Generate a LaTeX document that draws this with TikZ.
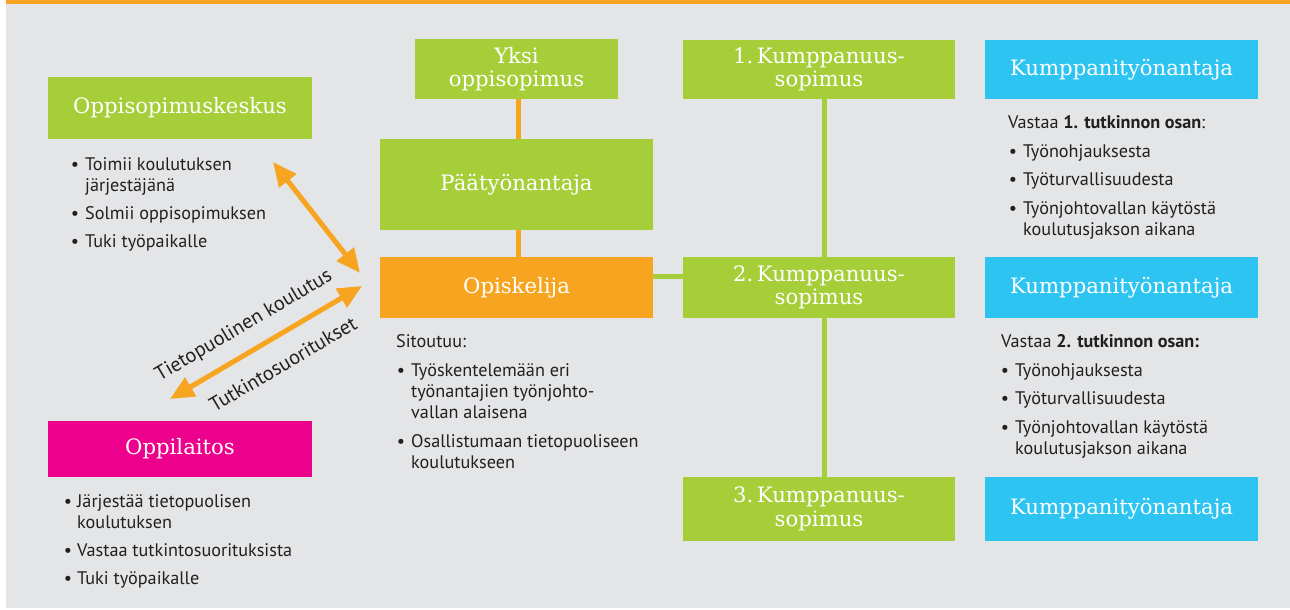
\documentclass[tikz,border=0pt]{standalone}
\usepackage{fontspec}
\setmainfont{PT Sans}
\newfontfamily\slab{DejaVu Serif}
\usetikzlibrary{arrows.meta}
\definecolor{bg}{HTML}{E4E5E6}
\definecolor{gr}{HTML}{A6CE39}
\definecolor{org}{HTML}{F7A520}
\definecolor{mag}{HTML}{EC008C}
\definecolor{cya}{HTML}{2DC4F2}
\definecolor{txt}{HTML}{231F20}
\tikzset{
  box/.style={inner sep=0pt, text=white, align=center,
    font=\slab\fontsize{21.2}{23.5}\selectfont},
  body/.style={inner sep=0pt, text=txt, anchor=base west,
    font=\fontsize{18.2}{20}\selectfont},
  bul/.style={inner sep=0pt, text=txt, anchor=base,
    font=\fontsize{18.2}{20}\selectfont},
  lbl/.style={inner sep=0pt, text=txt, font=\fontsize{20.3}{22}\selectfont},
  oline/.style={draw=org, line width=5pt},
  gline/.style={draw=gr, line width=5pt},
  arr/.style={draw=org, line width=5pt,
    {Triangle[length=24pt,width=21pt]}-{Triangle[length=24pt,width=21pt]}},
}
\begin{document}
\begin{tikzpicture}[x=1pt,y=-1pt]
\fill[white] (0,0) rectangle (1290,610);
\fill[bg] (6,0) rectangle (1290,608);
\fill[org] (6,0) rectangle (1290,4);
\useasboundingbox (0,0) rectangle (1290,610);

% coordinates for connector lines
\coordinate (ox) at (518,0);
\coordinate (gx) at (824,0);
\coordinate (gy) at (0,276.5);

% boxes
\node[box, fill=gr, minimum width=264pt, minimum height=62pt] (okk) at (180,108) {Oppisopimuskeskus};
\node[box, fill=mag, minimum width=264pt, minimum height=56pt] (opl) at (180,449) {Oppilaitos};
\node[box, fill=gr, minimum width=203pt, minimum height=60pt] (yksi) at (516.5,69) {Yksi\\oppisopimus};
\node[box, fill=gr, minimum width=273pt, minimum height=91pt] (paa) at (516.5,184.5) {Päätyönantaja};
\node[box, fill=org, minimum width=273pt, minimum height=61pt] (opi) at (516.5,287.5) {Opiskelija};
\node[box, fill=gr, minimum width=272pt, minimum height=59pt] (k1) at (819,69.5) {1.\,Kumppanuus-\\sopimus};
\node[box, fill=gr, minimum width=272pt, minimum height=61pt] (k2) at (819,287.5) {2.\,Kumppanuus-\\sopimus};
\node[box, fill=gr, minimum width=272pt, minimum height=64pt] (k3) at (819,509) {3.\,Kumppanuus-\\sopimus};
\node[box, fill=cya, minimum width=273pt, minimum height=59pt] (c1) at (1121.5,69.5) {Kumppanityönantaja};
\node[box, fill=cya, minimum width=273pt, minimum height=61pt] (c2) at (1121.5,287.5) {Kumppanityönantaja};
\node[box, fill=cya, minimum width=273pt, minimum height=64pt] (c3) at (1121.5,509) {Kumppanityönantaja};

% connector lines
\draw[oline] (yksi.south -| ox) -- (paa.north -| ox);
\draw[oline] (paa.south -| ox) -- (opi.north -| ox);
\draw[gline] (opi.east |- gy) -- (k2.west |- gy);
\draw[gline] (k1.south -| gx) -- (k2.north -| gx);
\draw[gline] (k2.south -| gx) -- (k3.north -| gx);

% arrows
\coordinate (a1s) at (273,162);
\coordinate (a1e) at (360,273);
\coordinate (a2s) at (362,286);
\coordinate (a2e) at (170,399);
\draw[arr] (a1s) -- (a1e);
\draw[arr] (a2s) -- (a2e);
\node[lbl, rotate=30.5] (tk) at (244,326) {Tietopuolinen koulutus};
\node[lbl, rotate=30.5] (ts) at (283,364) {Tutkintosuoritukset};

% Oppisopimuskeskus text
\node[bul] (okb1) at (75,170) {\textbullet};
\node[body] (okt1) at (85,170) {Toimii koulutuksen};
\node[body] (okt1b) at (85,191) {järjestäjänä};
\node[bul] (okb2) at (75,219) {\textbullet};
\node[body] (okt2) at (85,219) {Solmii oppisopimuksen};
\node[bul] (okb3) at (75,247) {\textbullet};
\node[body] (okt3) at (85,247) {Tuki työpaikalle};

% Oppilaitos text
\node[bul] (olb1) at (68,507) {\textbullet};
\node[body] (olt1) at (77,507) {Järjestää tietopuolisen};
\node[body] (olt1b) at (77,528) {koulutuksen};
\node[bul] (olb2) at (68,556) {\textbullet};
\node[body] (olt2) at (77,556) {Vastaa tutkintosuorituksista};
\node[bul] (olb3) at (68,584) {\textbullet};
\node[body] (olt3) at (77,584) {Tuki työpaikalle};

% Opiskelija text
\node[body] (opt0) at (396,347) {Sitoutuu:};
\node[bul] (opb1) at (401,376) {\textbullet};
\node[body] (opt1) at (411,376) {Työskentelemään eri};
\node[body] (opt1b) at (411,397) {työnantajien työnjohto-};
\node[body] (opt1c) at (411,418) {vallan alaisena};
\node[bul] (opb2) at (401,447) {\textbullet};
\node[body] (opt2) at (411,447) {Osallistumaan tietopuoliseen};
\node[body] (opt2b) at (411,468) {koulutukseen};

% Kumppanityonantaja 1 text
\node[body] (c1t0) at (1008,128) {Vastaa \textbf{1. tutkinnon osan}:};
\node[bul] (c1b1) at (1013,157) {\textbullet};
\node[body] (c1t1) at (1023,157) {Työnohjauksesta};
\node[bul] (c1b2) at (1013,185) {\textbullet};
\node[body] (c1t2) at (1023,185) {Työturvallisuudesta};
\node[bul] (c1b3) at (1013,214) {\textbullet};
\node[body] (c1t3) at (1023,214) {Työnjohtovallan käytöstä};
\node[body] (c1t3b) at (1023,235) {koulutusjakson aikana};

% Kumppanityonantaja 2 text
\node[body] (c2t0) at (1001,347) {Vastaa \textbf{2. tutkinnon osan:}};
\node[bul] (c2b1) at (1005,376) {\textbullet};
\node[body] (c2t1) at (1015,376) {Työnohjauksesta};
\node[bul] (c2b2) at (1005,404) {\textbullet};
\node[body] (c2t2) at (1015,404) {Työturvallisuudesta};
\node[bul] (c2b3) at (1005,433) {\textbullet};
\node[body] (c2t3) at (1015,433) {Työnjohtovallan käytöstä};
\node[body] (c2t3b) at (1015,454) {koulutusjakson aikana};
\end{tikzpicture}
\end{document}
